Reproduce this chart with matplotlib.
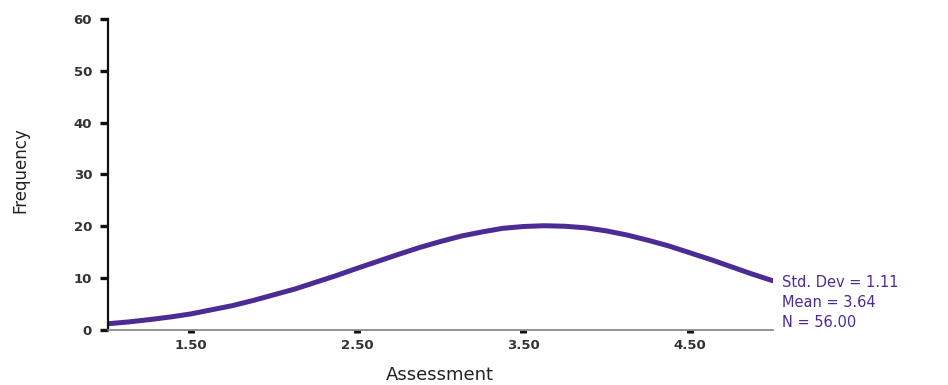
import matplotlib
matplotlib.use("Agg")
import matplotlib.pyplot as plt

# Fitted normal curve for the Assessment scores, read at 0.125 steps
assessment = [1.0, 1.125, 1.25, 1.375, 1.5, 1.625, 1.75, 1.875, 2.0,
              2.125, 2.25, 2.375, 2.5, 2.625, 2.75, 2.875, 3.0,
              3.125, 3.25, 3.375, 3.5, 3.625, 3.75, 3.875, 4.0,
              4.125, 4.25, 4.375, 4.5, 4.625, 4.75, 4.875, 5.0]
frequency = [1.2, 1.55, 2.0, 2.5, 3.1, 3.9, 4.7, 5.7, 6.8,
             7.9, 9.2, 10.5, 11.9, 13.25, 14.6, 15.9, 17.05,
             18.1, 18.9, 19.6, 19.95, 20.1, 20.0, 19.7, 19.1,
             18.3, 17.3, 16.2, 14.9, 13.6, 12.2, 10.8, 9.5]

x_ticks = [1.5, 2.5, 3.5, 4.5]
x_tick_labels = ["1.50", "2.50", "3.50", "4.50"]
y_ticks = [0, 10, 20, 30, 40, 50, 60]
stats_lines = ["Std. Dev = 1.11", "Mean = 3.64", "N = 56.00"]

CURVE = "#4b2b94"

fig = plt.figure(figsize=(9.48, 3.85), dpi=100)
ax = fig.add_axes([0.114, 0.143, 0.701, 0.808])

ax.plot(assessment, frequency, color=CURVE, linewidth=3.6,
        solid_capstyle="round")

ax.set_xlim(1.0, 5.0)
ax.set_ylim(0, 60)
ax.set_xticks(x_ticks)
ax.set_xticklabels(x_tick_labels)
ax.set_yticks(y_ticks)

for side in ("top", "right"):
    ax.spines[side].set_visible(False)
ax.spines["left"].set_linewidth(1.6)
ax.spines["left"].set_color("#111111")
ax.spines["bottom"].set_linewidth(1.2)
ax.spines["bottom"].set_color("#808080")

ax.tick_params(axis="x", direction="out", length=2.5, width=5, color="#111111",
               pad=4, labelsize=9.5, labelcolor="#333333")
ax.tick_params(axis="y", direction="out", length=5.5, width=2.4, color="#111111",
               pad=6, labelsize=9.5, labelcolor="#333333")
for lab in ax.get_xticklabels() + ax.get_yticklabels():
    lab.set_fontweight("bold")

ax.set_xlabel("Assessment", fontsize=13, color="#222222", labelpad=10)
ax.text(-0.132, 0.514, "Frequency", transform=ax.transAxes, rotation=90,
        ha="center", va="center", fontsize=12, color="#222222")

for i, line in enumerate(stats_lines):
    ax.text(1.0135, 0.151 - i * 0.064, line, transform=ax.transAxes,
            ha="left", va="center", fontsize=10.5, color=CURVE)

fig.savefig("out.png", dpi=100, facecolor="white")
